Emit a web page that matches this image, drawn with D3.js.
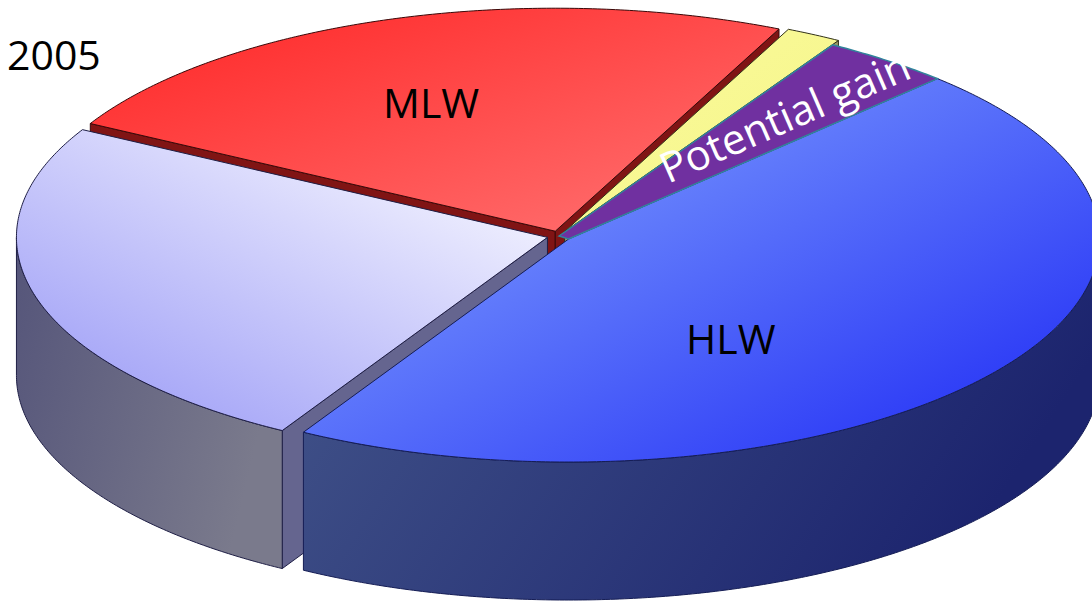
<!DOCTYPE html>
<html>
<head>
<meta charset="utf-8">
<script src="https://cdn.jsdelivr.net/npm/d3@7"></script>
<style>
  body { margin: 0; background: #fff; }
  text { font-family: "Open Sans", "Liberation Sans", sans-serif; }
</style>
</head>
<body>
<div id="chart"></div>
<script>
// slice data, in drawing order around the pie (clockwise from the HLW edge)
const categories = ['HLW', 'LLW', 'MLW', 'Other', 'Potential gain'];
const shares = [46.1, 24.7, 23.9, 1.7, 3.6];
const labels = ['HLW', '', 'MLW', '', 'Potential gain'];
const title = '2005';

const width = 1092;
const height = 602;
const cx = 559, cy = 236, rx = 531, ry = 223;
const depth = 138;

// styling per slice
const topColors = [['#88aaff', '#2a38f6'], ['#f6f6ff', '#9a9af6'], ['#ff2424', '#ff7474'], ['#fbfb9c', '#f4f488'], ['#7030a0', '#7030a0']];
const sideColors = [['#43558a', '#1c246e'], ['#55557a', '#7a7a8c'], ['#7a1010', '#8a1c1c'], ['#8e8e5a', '#a0a070'], ['#7030a0', '#7030a0']];
const radialColors = ['#2c3a78', '#65658f', '#801414', '#9a9a66', '#7030a0'];
const strokes = ['#151d55', '#1e1e45', '#3a0808', '#303018', '#31849b'];
const explode = [12, 12, 12, 12, 0];
const flat = [false, false, false, false, true];

const svg = d3.select('#chart').append('svg')
    .attr('width', width)
    .attr('height', height);

const defs = svg.append('defs');

const xs = d3.scaleLinear().domain([-1, 1]).range([cx - rx, cx + rx]);
const ys = d3.scaleLinear().domain([-1, 1]).range([cy - ry, cy + ry]);

const deg = Math.PI / 180;
const pie = d3.pie()
    .value(function(d) { return d; })
    .sort(null)
    .startAngle(44 * deg)
    .endAngle(44 * deg + 2 * Math.PI);

const arcs = pie(shares).map(function(d, i) {
    // d3 angles start at 12 o'clock; convert to screen angle from 3 o'clock
    const t0 = d.startAngle - Math.PI / 2;
    const t1 = d.endAngle - Math.PI / 2;
    const mid = (t0 + t1) / 2;
    const off = [explode[i] * Math.cos(mid), explode[i] * Math.sin(mid) * ry / rx];
    return { i: i, t0: t0, t1: t1, mid: mid, off: off };
});

function pt(t, off, z) {
    return [xs(Math.cos(t)) + off[0], ys(Math.sin(t)) + off[1] + z];
}
function centre(off, z) {
    return [xs(0) + off[0], ys(0) + off[1] + z];
}
function arcPts(a, b, off, z, off2) {
    const n = Math.max(2, Math.ceil(Math.abs(b - a) / (0.5 * deg)));
    return d3.range(n + 1).map(function(k) {
        const f = k / n;
        const o = off2 ? [off[0] + (off2[0] - off[0]) * f, off[1] + (off2[1] - off[1]) * f] : off;
        return pt(a + (b - a) * f, o, z);
    });
}
const line = d3.line().curve(d3.curveLinearClosed);

function grad(id, c, x1, y1, x2, y2) {
    const g = defs.append('linearGradient').attr('id', id)
        .attr('x1', x1).attr('y1', y1).attr('x2', x2).attr('y2', y2);
    g.append('stop').attr('offset', '0%').attr('stop-color', c[0]);
    g.append('stop').attr('offset', '100%').attr('stop-color', c[1]);
}
grad('top0', topColors[0], 0, 0.1, 0.85, 0.9);
grad('top1', topColors[1], 0.9, 0.1, 0.1, 1);
grad('top2', topColors[2], 0, 0, 1, 1);
grad('top3', topColors[3], 0, 0, 1, 1);
grad('top4', topColors[4], 0, 0, 1, 1);
sideColors.forEach(function(c, i) { grad('side' + i, c, 0, 0, 1, 0.3); });

// back slices first, flat overlays last
const order = arcs.slice().sort(function(a, b) {
    if (flat[a.i] !== flat[b.i]) return flat[a.i] ? 1 : -1;
    return Math.sin(a.mid) - Math.sin(b.mid);
});

const g = svg.append('g');

order.forEach(function(s) {
    const i = s.i;
    const sg = g.append('g').attr('class', 'slice ' + categories[i]);
    if (!flat[i]) {
        // radial faces facing the viewer
        if (Math.cos(s.t0) < 0) {
            sg.append('path')
                .attr('d', line([centre(s.off, 0), pt(s.t0, s.off, 0), pt(s.t0, s.off, depth), centre(s.off, depth)]))
                .attr('fill', radialColors[i]).attr('stroke', strokes[i]).attr('stroke-width', 1);
        }
        if (Math.cos(s.t1) > 0) {
            sg.append('path')
                .attr('d', line([centre(s.off, 0), pt(s.t1, s.off, 0), pt(s.t1, s.off, depth), centre(s.off, depth)]))
                .attr('fill', radialColors[i]).attr('stroke', strokes[i]).attr('stroke-width', 1);
        }
        // outer wall, front half only
        [[-2 * Math.PI, -Math.PI], [0, Math.PI], [2 * Math.PI, 3 * Math.PI]].forEach(function(r) {
            const a = Math.max(s.t0, r[0]);
            const b = Math.min(s.t1, r[1]);
            if (b > a) {
                const pts = arcPts(a, b, s.off, 0).concat(arcPts(b, a, s.off, depth));
                sg.append('path')
                    .attr('d', line(pts))
                    .attr('fill', 'url(#side' + i + ')')
                    .attr('stroke', strokes[i]).attr('stroke-width', 1);
            }
        });
        sg.append('path')
            .attr('d', line([centre(s.off, 0)].concat(arcPts(s.t0, s.t1, s.off, 0))))
            .attr('fill', 'url(#top' + i + ')')
            .attr('stroke', strokes[i])
            .attr('stroke-width', 1);
    } else {
        // flat wedge lying on the top, reaching over to the next slice's edge
        const next = arcs[(i + 1) % arcs.length].off;
        const pts = [centre(s.off, 0)].concat(arcPts(s.t0, s.t1, s.off, 0, next), [centre(next, 0)]);
        sg.append('path')
            .attr('d', line(pts))
            .attr('fill', 'url(#top' + i + ')')
            .attr('stroke', strokes[i])
            .attr('stroke-width', 1.5);
    }
});

// labels
svg.append('text')
    .attr('x', 7).attr('y', 70)
    .attr('font-size', 41)
    .attr('fill', '#000')
    .text(title);

svg.append('text')
    .attr('x', 383).attr('y', 118)
    .attr('font-size', 41)
    .attr('fill', '#000')
    .text(labels[2]);

svg.append('text')
    .attr('x', 686).attr('y', 354)
    .attr('font-size', 41)
    .attr('fill', '#000')
    .text(labels[0]);

svg.append('text')
    .attr('transform', 'translate(668,184) rotate(-23.5)')
    .attr('font-size', 42)
    .attr('fill', '#fff')
    .text(labels[4]);
</script>
</body>
</html>
